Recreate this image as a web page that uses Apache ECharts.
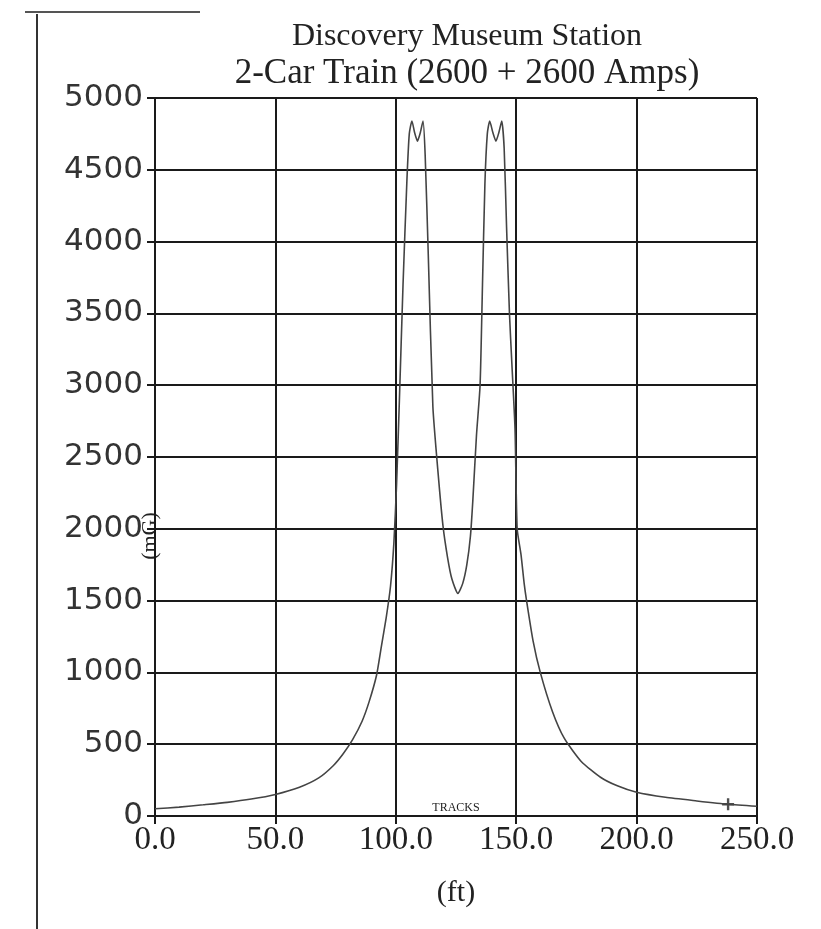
<!DOCTYPE html>
<html>
<head>
<meta charset="utf-8">
<script src="https://cdn.jsdelivr.net/npm/echarts@6/dist/echarts.min.js"></script>
<style>
  html, body { margin: 0; padding: 0; background: #fff; }
  #chart { width: 821px; height: 929px; }
</style>
</head>
<body>
<div id="chart"></div>
<script>
// distance along the station (ft) and magnetic field (mG)
var distFt = [0, 10, 20, 30, 40, 50, 60, 68, 74, 78, 82, 86, 89, 92, 94, 96, 97.8, 99.2, 100.3, 101.5, 103, 104.6, 105.6, 106.7, 107.8, 109, 110.2, 111.3, 112.2, 113.5, 115.4, 117.5, 119.6, 121.5, 123.3, 125.8, 127.8, 129.5, 131, 132, 133.5, 135, 136, 137, 138, 139, 140.3, 141.6, 142.8, 144, 145, 146, 147.2, 148.2, 149.5, 150.4, 152, 153.3, 154.3, 157, 160, 165, 170, 177, 185, 192, 200, 212, 225, 238, 250]
var fieldMG = [50, 62, 78, 95, 118, 150, 200, 265, 350, 430, 530, 660, 800, 980, 1180, 1380, 1600, 1900, 2300, 2900, 3700, 4420, 4750, 4840, 4760, 4700, 4760, 4840, 4600, 3900, 2850, 2400, 2020, 1800, 1650, 1550, 1620, 1750, 1950, 2200, 2650, 3000, 3700, 4400, 4750, 4840, 4760, 4700, 4760, 4840, 4650, 4100, 3500, 3150, 2700, 2000, 1820, 1620, 1500, 1220, 1000, 730, 540, 380, 270, 210, 165, 130, 105, 82, 68]
var markerFt = [238]
var markerMG = [82]
var titleLine1 = 'Discovery Museum Station'
var titleLine2 = '2-Car Train (2600 + 2600 Amps)'

var curve = distFt.map(function (d, i) { return [d, fieldMG[i]] })
var marks = markerFt.map(function (d, i) { return [d, markerMG[i]] })

var myChart = echarts.init(document.getElementById('chart'))
myChart.setOption({
  backgroundColor: '#fff',
  animation: false,
  title: {
    text: '{a|' + titleLine1 + '}\n{b|' + titleLine2 + '}',
    left: 462,
    top: 14,
    textAlign: 'center',
    textStyle: {
      fontWeight: 'normal',
      rich: {
        a: { fontFamily: 'Liberation Serif', fontWeight: 'normal', fontSize: 32, lineHeight: 36, color: '#222', align: 'center' },
        b: { fontFamily: 'Liberation Serif', fontWeight: 'normal', fontSize: 35, lineHeight: 38, color: '#222', align: 'center' }
      }
    }
  },
  graphic: [
    { type: 'line', shape: { x1: 37, y1: 14, x2: 37, y2: 929 }, style: { stroke: '#333', lineWidth: 2 } },
    { type: 'line', shape: { x1: 25, y1: 12, x2: 200, y2: 12 }, style: { stroke: '#555', lineWidth: 2 } },
    {
      type: 'text',
      x: 150,
      y: 536,
      rotation: Math.PI / 2,
      style: {
        text: '(mG)',
        fontFamily: 'Liberation Serif',
        fontSize: 22,
        fill: '#222',
        align: 'center',
        verticalAlign: 'middle'
      }
    }
  ],
  grid: {
    left: 155,
    right: 64,
    top: 98,
    bottom: 113
  },
  xAxis: {
    type: 'value',
    min: 0,
    max: 250,
    interval: 50,
    name: '(ft)',
    nameLocation: 'middle',
    nameGap: 62,
    nameTextStyle: { fontFamily: 'Liberation Serif', fontSize: 30, color: '#222' },
    axisLine: { show: true, onZero: false, lineStyle: { color: '#1a1a1a', width: 2 } },
    axisTick: { show: true, inside: false, length: 8, lineStyle: { color: '#1a1a1a', width: 2 } },
    axisLabel: {
      margin: 8,
      fontFamily: 'Liberation Serif',
      fontSize: 33,
      color: '#222',
      formatter: function (v) { return v.toFixed(1) }
    },
    splitLine: { show: true, lineStyle: { color: '#1a1a1a', width: 2 } }
  },
  yAxis: {
    type: 'value',
    min: 0,
    max: 5000,
    interval: 500,
    axisLine: { show: true, lineStyle: { color: '#1a1a1a', width: 2 } },
    axisTick: { show: true, inside: false, length: 8, lineStyle: { color: '#1a1a1a', width: 2 } },
    axisLabel: {
      margin: 12,
      fontFamily: 'DejaVu Sans',
      fontSize: 31,
      color: '#333',
      formatter: function (v) { return String(v) }
    },
    splitLine: { show: true, lineStyle: { color: '#1a1a1a', width: 2 } }
  },
  series: [
    {
      type: 'line',
      data: curve,
      smooth: 0.2,
      showSymbol: false,
      lineStyle: { color: '#444', width: 1.6 },
      markPoint: {
        symbol: 'rect',
        symbolSize: 0,
        data: [{ coord: [125, 0], value: 'TRACKS' }],
        label: {
          show: true,
          position: 'top',
          distance: 2,
          formatter: 'TRACKS',
          fontFamily: 'Liberation Serif',
          fontSize: 12,
          color: '#222'
        }
      }
    },
    {
      type: 'scatter',
      data: marks,
      symbol: 'path://M4,0h2v4h4v2h-4v4h-2v-4h-4v-2h4z',
      symbolSize: 12,
      itemStyle: { color: '#222' }
    }
  ]
})
</script>
</body>
</html>
